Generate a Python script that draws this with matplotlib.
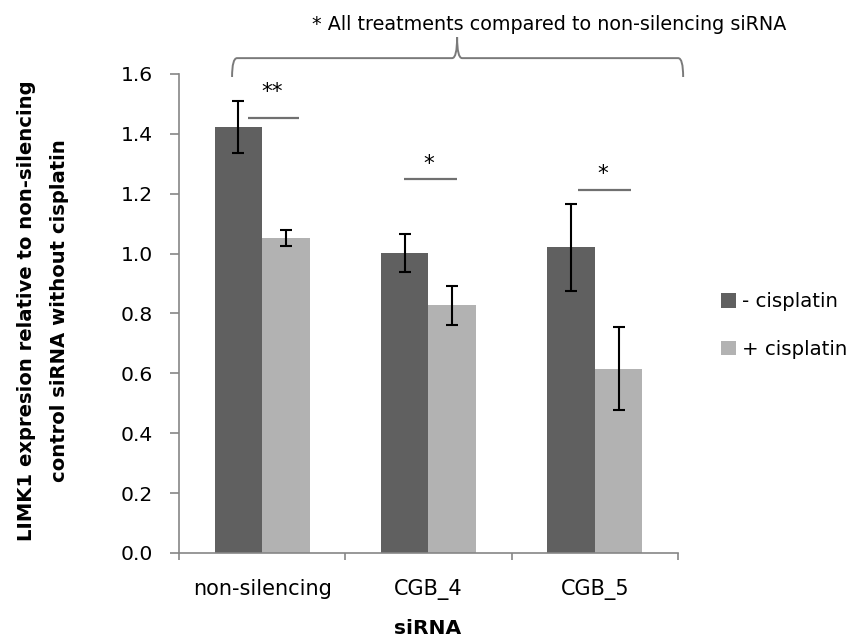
import matplotlib
matplotlib.use("Agg")
import matplotlib.pyplot as plt
from matplotlib.path import Path
from matplotlib.patches import PathPatch
import numpy as np

plt.rcParams['font.family'] = ['DejaVu Sans']

categories = ["non-silencing", "CGB_4", "CGB_5"]
minus_cis = [1.424, 1.001, 1.021]
minus_err = [0.087, 0.064, 0.146]
plus_cis = [1.051, 0.827, 0.616]
plus_err = [0.027, 0.065, 0.139]
series_labels = ["- cisplatin", "+ cisplatin"]
sig_marks = ["**", "*", "*"]
sig_levels = [1.452, 1.250, 1.211]
yticks = [0.0, 0.2, 0.4, 0.6, 0.8, 1.0, 1.2, 1.4, 1.6]

dark = "#606060"
light = "#b2b2b2"
axis_grey = "#868686"

W, H = 853, 639
fig = plt.figure(figsize=(W / 100, H / 100), dpi=100)
ax = fig.add_axes([179 / W, 1 - 553 / H, (678 - 179) / W, (553 - 74) / H])

x = np.arange(len(categories))
w = 0.286
ax.bar(x - w / 2, minus_cis, w, color=dark, label=series_labels[0], zorder=2)
ax.bar(x + w / 2, plus_cis, w, color=light, label=series_labels[1], zorder=2)
for xs, vals, errs in [(x - w / 2, minus_cis, minus_err), (x + w / 2, plus_cis, plus_err)]:
    ax.errorbar(xs, vals, yerr=errs, fmt="none", ecolor="black",
                elinewidth=1.5, capsize=4, capthick=1.5, zorder=3)

ax.set_xlim(-0.5, 2.5)
ax.set_ylim(0, 1.6)
ax.set_yticks(yticks)
ax.set_yticklabels([f"{t:.1f}" for t in yticks], fontsize=14.6)
ax.set_xticks([-0.5, 0.5, 1.5, 2.5])
ax.set_xticklabels([])
ax.set_xticks(x, minor=True)
ax.set_xticklabels(categories, minor=True, fontsize=15)
ax.tick_params(axis="x", which="minor", length=0, pad=19)
ax.tick_params(axis="x", which="major", direction="out", length=5, color=axis_grey, width=1.2)
ax.tick_params(axis="y", direction="out", length=6.5, color=axis_grey, width=1.2, pad=12)
for s in ["top", "right"]:
    ax.spines[s].set_visible(False)
for s in ["left", "bottom"]:
    ax.spines[s].set_color(axis_grey)
    ax.spines[s].set_linewidth(1.2)

fig.text(428 / W, 1 - 628 / H, "siRNA", ha="center", va="center",
         fontsize=14.6, fontweight="bold")
fig.text(43 / W, 1 - 311 / H,
         "LIMK1 expresion relative to non-silencing\ncontrol siRNA without cisplatin",
         rotation=90, ha="center", va="center", multialignment="center",
         fontsize=14.1, fontweight="bold", linespacing=1.95)

# significance bars between paired treatments
sig_spans = [(-0.084, 0.222), (-0.147, 0.171), (-0.10, 0.217)]
star_lift = [0.068, 0.028, 0.036]
for i, (a, b) in enumerate(sig_spans):
    ax.plot([x[i] + a, x[i] + b], [sig_levels[i], sig_levels[i]], color="#707070",
            lw=1.6, solid_capstyle="butt", zorder=3, clip_on=False)
    ax.text(x[i] + (a + b) / 2 - 0.01, sig_levels[i] + star_lift[i], sig_marks[i],
            ha="center", va="baseline", fontsize=15.5, clip_on=False)

# curly brace over all groups
xl, xr, xm = -0.181, 2.531, 1.172
yb, yh, yp = 1.590, 1.653, 1.723
dx = 0.03
verts = [
    (xl, yb), (xl, yh), (xl + dx, yh),
    (xm - dx, yh), (xm, yh), (xm, yp),
    (xm, yh), (xm + dx, yh),
    (xr - dx, yh), (xr, yh), (xr, yb),
]
codes = [Path.MOVETO, Path.CURVE3, Path.CURVE3,
         Path.LINETO, Path.CURVE3, Path.CURVE3,
         Path.CURVE3, Path.CURVE3,
         Path.LINETO, Path.CURVE3, Path.CURVE3]
brace = PathPatch(Path(verts, codes), fill=False, edgecolor="#7a7a7a", lw=1.4,
                  transform=ax.transData, clip_on=False)
ax.add_patch(brace)
fig.text(312 / W, 1 - 25 / H, "* All treatments compared to non-silencing siRNA",
         ha="left", va="center", fontsize=13.8)

# legend
leg = fig.legend(loc="center left", bbox_to_anchor=(721 / W, 1 - 325.5 / H),
                 bbox_transform=fig.transFigure, frameon=False,
                 fontsize=14.2, handlelength=0.76, handleheight=0.76,
                 handletextpad=0.3, labelspacing=1.45, borderpad=0, borderaxespad=0)

fig.savefig("out.png", dpi=100)
